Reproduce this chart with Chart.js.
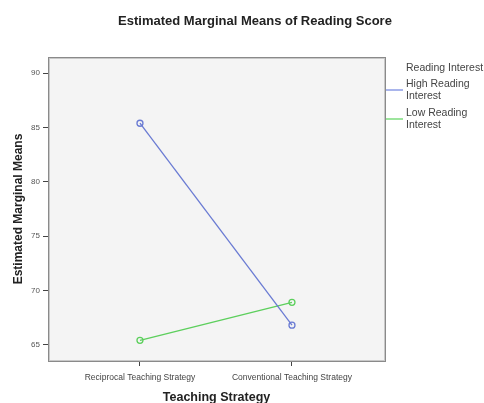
<!DOCTYPE html>
<html>
<head>
<meta charset="utf-8">
<script src="https://cdn.jsdelivr.net/npm/chart.js@4/dist/chart.umd.min.js"></script>
<style>
  html, body { margin: 0; padding: 0; background: #fff; }
  #wrap { position: relative; width: 484px; height: 403px; }
</style>
</head>
<body>
<div id="wrap"><canvas id="mainChart" width="484" height="403"></canvas></div>
<script>
// values
const strategies = ['Reciprocal Teaching Strategy', 'Conventional Teaching Strategy'];
const highInterest = [85.4, 66.8];
const lowInterest = [65.4, 68.9];
const yTicks = [65, 70, 75, 80, 85, 90];
const chartTitle = 'Estimated Marginal Means of Reading Score';
const legendTitle = 'Reading Interest';
const seriesNames = [['High Reading', 'Interest'], ['Low Reading', 'Interest']];

const FONT = '"Liberation Sans", Arial, sans-serif';
const BLUE = '#6a7bd3', GREEN = '#5ccf5c';

// grey plot background, frame, title and the legend to the right
const plotFrame = {
    id: 'plotFrame',
    beforeDraw(chart) {
        const a = chart.chartArea, ctx = chart.ctx;
        ctx.save();
        ctx.fillStyle = '#f4f4f4';
        ctx.fillRect(a.left, a.top, a.right - a.left, a.bottom - a.top);
        ctx.restore();
    },
    afterDraw(chart) {
        const a = chart.chartArea, ctx = chart.ctx;
        ctx.save();
        ctx.strokeStyle = '#8a8a8a';
        ctx.lineWidth = 1;
        ctx.strokeRect(a.left + 0.5, a.top + 0.5, a.right - a.left, a.bottom - a.top);
        ctx.strokeStyle = '#c8c8c8';
        ctx.strokeRect(a.left + 1.5, a.top + 1.5, a.right - a.left - 2, a.bottom - a.top - 2);

        // title, centred a little right of the canvas like SPSS does
        ctx.font = 'bold 13px ' + FONT;
        ctx.fillStyle = '#222';
        ctx.textAlign = 'center';
        ctx.textBaseline = 'middle';
        ctx.fillText(chartTitle, 255, 21);

        // legend
        const x = a.right + 21;
        ctx.textAlign = 'left';
        ctx.font = '10.5px ' + FONT;
        ctx.fillStyle = '#444';
        ctx.fillText(legendTitle, x, a.top + 11);
        const colors = ['#8c9ce6', '#7ddc7d'];
        chart.data.datasets.forEach((ds, i) => {
            const y = a.top + 33 + i * 29;
            ctx.strokeStyle = colors[i];
            ctx.lineWidth = 1.5;
            ctx.beginPath();
            ctx.moveTo(a.right + 1, y);
            ctx.lineTo(a.right + 18, y);
            ctx.stroke();
            ctx.fillStyle = '#444';
            seriesNames[i].forEach((t, j) => ctx.fillText(t, x, y - 6 + j * 12));
        });
        ctx.restore();
    }
};

function toPoints(vals) {
    return vals.map((v, i) => ({ x: i + 1, y: v }));
}

const ctx = document.getElementById('mainChart').getContext('2d');
new Chart(ctx, {
    type: 'line',
    data: {
        datasets: [
            { label: 'High Reading Interest', data: toPoints(highInterest), borderColor: BLUE,
              pointBorderColor: BLUE, pointBackgroundColor: 'rgba(0,0,0,0)', pointRadius: 3,
              pointBorderWidth: 1.3, borderWidth: 1.3, tension: 0 },
            { label: 'Low Reading Interest', data: toPoints(lowInterest), borderColor: GREEN,
              pointBorderColor: GREEN, pointBackgroundColor: 'rgba(0,0,0,0)', pointRadius: 3,
              pointBorderWidth: 1.3, borderWidth: 1.3, tension: 0 }
        ]
    },
    options: {
        responsive: false, animation: false,
        layout: { padding: { left: 0, right: 99, top: 57, bottom: 0 } },
        plugins: {
            legend: { display: false },
            tooltip: { enabled: false },
            title: { display: false }
        },
        scales: {
            x: {
                type: 'linear', min: 0.395, max: 2.612,
                afterBuildTicks: s => { s.ticks = strategies.map((_, i) => ({ value: i + 1 })); },
                afterFit: s => { s.height = 42; },
                ticks: { callback: v => strategies[v - 1], color: '#444',
                         font: { family: FONT, size: 8.5 }, padding: 7, maxRotation: 0, autoSkip: false },
                grid: { drawOnChartArea: false, tickLength: 5, color: '#444' },
                border: { display: false },
                title: { display: true, text: 'Teaching Strategy', color: '#222',
                         font: { family: FONT, size: 12.5, weight: 'bold' }, padding: { top: 0, bottom: -2.5 } }
            },
            y: {
                min: 63.5, max: 91.5,
                afterBuildTicks: s => { s.ticks = yTicks.map(v => ({ value: v })); },
                afterFit: s => { s.width = 48; },
                ticks: { color: '#555', font: { family: FONT, size: 8 }, padding: 3 },
                grid: { drawOnChartArea: false, tickLength: 5, color: '#444' },
                border: { display: false },
                title: { display: true, text: 'Estimated Marginal Means', color: '#222',
                         font: { family: FONT, size: 12, weight: 'bold' }, padding: { top: 11, bottom: 0 } }
            }
        }
    },
    plugins: [plotFrame]
});
</script>
</body>
</html>
